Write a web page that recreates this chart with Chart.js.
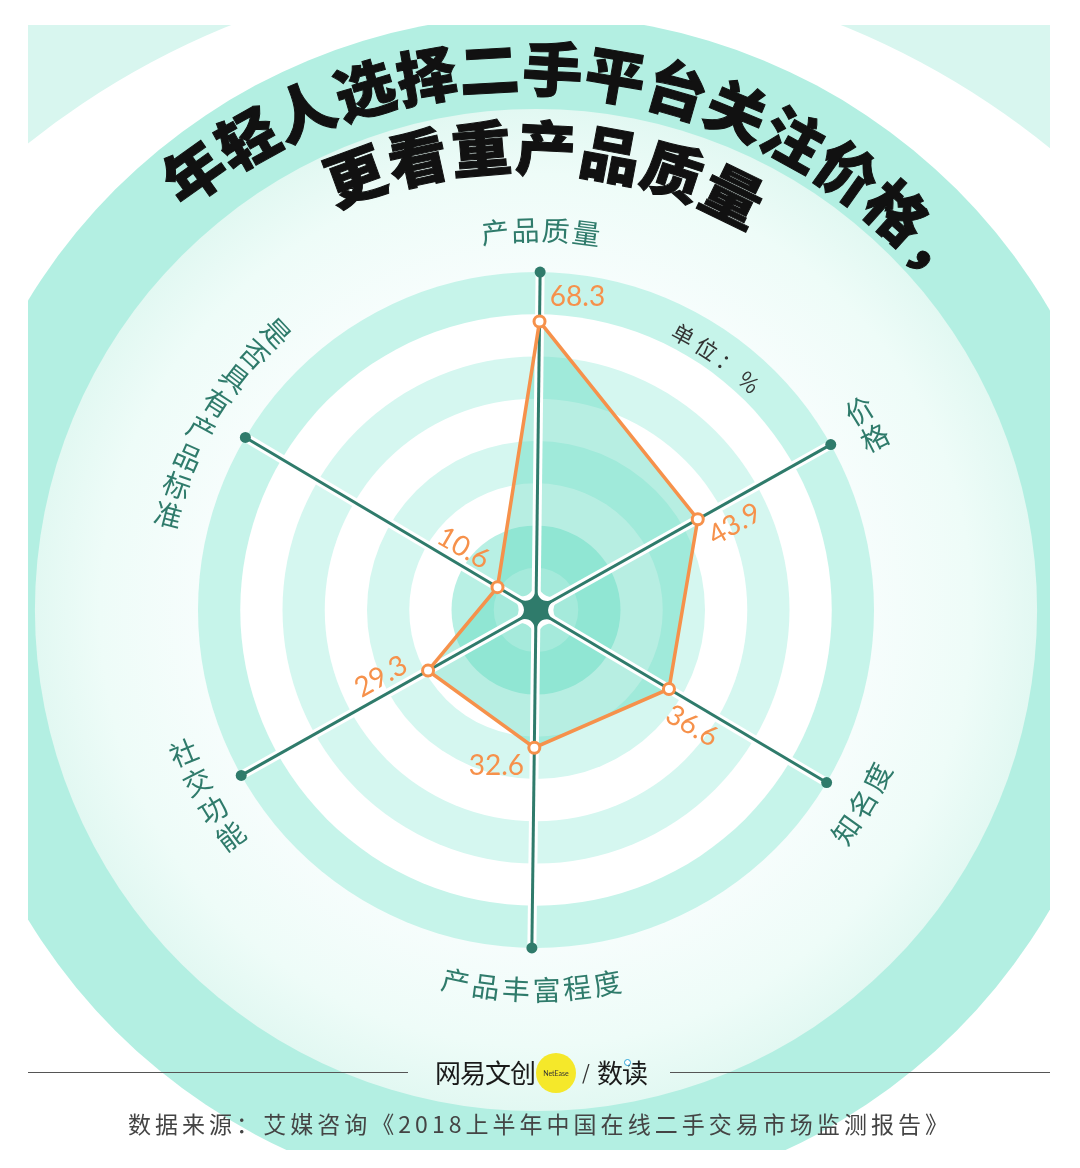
<!DOCTYPE html>
<html><head><meta charset="utf-8">
<script src="https://cdn.jsdelivr.net/npm/chart.js@4.4.1/dist/chart.umd.min.js"></script>
<style>
html,body{margin:0;padding:0;background:#fff;}
#wrap{position:relative;width:1080px;height:1168px;overflow:hidden;}
#c{position:absolute;left:0;top:0;}
.t{position:absolute;font-family:"Noto Sans CJK SC",sans-serif;font-weight:900;font-size:60px;line-height:60px;color:#111;white-space:nowrap;-webkit-text-stroke:1px #111;}
.hl{position:absolute;height:0;border-top:1.5px solid #555;}
.lg{position:absolute;font-family:"Noto Sans CJK SC",sans-serif;color:#1a1a1a;white-space:nowrap;line-height:1;}
#src{position:absolute;left:0;width:1080px;top:1109px;text-align:center;font-family:"Noto Sans CJK SC",sans-serif;font-size:23px;line-height:28px;color:#444;white-space:nowrap;}
</style></head>
<body>
<div id="wrap">
<canvas id="c" width="1080" height="1168"></canvas>
<div class="hl" style="left:28px;width:380px;top:1072px"></div>
<div class="hl" style="left:670px;width:380px;top:1072px"></div>
<div class="lg" style="left:435px;top:1059px;font-size:26px;letter-spacing:-1px">网易文创</div>
<div class="lg" style="left:536px;top:1053px;width:40px;height:40px;border-radius:50%;background:#f5e82a;font-family:Lato,sans-serif;font-size:7px;line-height:40px;text-align:center;color:#333">NetEase</div>
<div class="lg" style="left:582px;top:1062px;font-size:20px;color:#333">/</div>
<div class="lg" style="left:597px;top:1059px;font-size:26px;letter-spacing:-1px">数读</div>
<div class="lg" style="left:624px;top:1059px;width:5px;height:5px;border-radius:50%;border:1.5px solid #2aa3d8;background:#fff"></div>
<div id="src"></div>
</div>
<script>
// ---- data ----
const categories = ['产品质量','价格','知名度','产品丰富程度','社交功能','是否具有产品标准'];
const values = [68.3, 43.9, 36.6, 32.6, 29.3, 10.6];
const scaleMin = 0;
const scaleMax = 80;
const bandTicks = [10,20,30,40,50,60,70,80];
const titleLine1 = '年轻人选择二手平台关注价格，';
const titleLine2 = '更看重产品质量';
const unitText = '单位：%';
const sourceText = '数据来源：艾媒咨询《2018上半年中国在线二手交易市场监测报告》';

// ---- styles ----
const S = {
  dark:'#2f7b6b', orange:'#f6914b', fillCol:'rgba(96,218,190,0.45)',
  bandColors:['#dff8f2','#b8f0e4','#ffffff','#d5f7f0','#ffffff','#d5f7f0','#ffffff','#c6f4ea'],
  ringInner:118.6, ringOuter:140.8, ringColor:'#b3efe2',
  mint:'#d8f6ef', clip:[28,25,1022,1125], whiteDiskDy:172, whiteDiskR:816,
  labelGap:42, labelPitch:[30.5,31,30.5,30.5,32,30.7],
  labelFlip:[false,false,true,true,true,true],
  labelVertical:[false,true,false,false,true,true],
  labelFont:'28px "Noto Sans CJK SC", sans-serif', labelColor:'#2f7b6b',
  valueFont:'28px Lato, sans-serif',
  valueOffsets:[[38,-24,0],[37,5,-30],[23,37,30],[-38,18,0],[-47,6,-30],[-34,-39,30]],
  unitR:312, unitDeg:35.6, unitPitch:27, unitFont:'22px "Noto Sans CJK SC", sans-serif', unitColor:'#333',
  titleDx:-15, titleDy:21,
  title1:{R:566,start:-35.5,step:6.45}, title2:{R:487,start:-20,step:7.65}
};

function arcText(ctx, str, cx, cy, R, centerRad, pitch, flip, vertical){
  const chars = Array.from(str), n = chars.length;
  chars.forEach((ch,j)=>{
    const off = (j-(n-1)/2)*pitch/R;
    const ang = centerRad + (flip ? -off : off);
    let rot = flip ? ang-Math.PI : ang;
    if(vertical) rot -= Math.PI/2;
    ctx.save();
    ctx.translate(cx+R*Math.sin(ang), cy-R*Math.cos(ang));
    ctx.rotate(rot);
    ctx.fillText(ch,0,0);
    ctx.restore();
  });
}

const bgPlugin = {
  id:'bg',
  beforeDraw(chart){
    const ctx=chart.ctx, s=chart.scales.r, cx=s.xCenter, cy=s.yCenter;
    const d=v=>s.getDistanceFromCenterForValue(v);
    const disk=(r,col)=>{ctx.fillStyle=col;ctx.beginPath();ctx.arc(cx,cy,r,0,Math.PI*2);ctx.fill();};
    ctx.save();
    ctx.beginPath(); ctx.rect(...S.clip); ctx.clip();
    ctx.fillStyle=S.mint; ctx.fillRect(S.clip[0],S.clip[1],S.clip[2],600);
    ctx.fillStyle='#fff'; ctx.beginPath(); ctx.arc(cx,cy+S.whiteDiskDy,S.whiteDiskR,0,Math.PI*2); ctx.fill();
    disk(d(S.ringOuter), S.ringColor);
    const g=ctx.createRadialGradient(cx,cy,d(scaleMax),cx,cy,d(S.ringInner));
    g.addColorStop(0,'#f6fdfc'); g.addColorStop(0.6,'#eefcf8'); g.addColorStop(1,'#e2f8f2');
    disk(d(S.ringInner), g);
    for(let i=bandTicks.length-1;i>=0;i--) disk(d(bandTicks[i]), S.bandColors[i]);
    ctx.restore();
  },
  afterDatasetDraw(chart,args){
    if(args.index!==1) return;
    const s=chart.scales.r, ctx=chart.ctx, cx=s.xCenter, cy=s.yCenter, n=chart.data.labels.length;
    const ends=[]; for(let i=0;i<n;i++) ends.push(s.getPointPositionForValue(i, scaleMax));
    const dirs=ends.map(p=>{const dx=p.x-cx,dy=p.y-cy,L=Math.hypot(dx,dy);return [dx/L,dy/L];});
    const star=(tip,k)=>{
      ctx.beginPath();
      for(let i=0;i<n;i++){
        const a=dirs[i], b=dirs[(i+1)%n]; const bx=a[0]+b[0], by=a[1]+b[1], bl=Math.hypot(bx,by);
        if(i===0) ctx.moveTo(cx+a[0]*tip, cy+a[1]*tip);
        ctx.quadraticCurveTo(cx+bx/bl*k, cy+by/bl*k, cx+b[0]*tip, cy+b[1]*tip);
      }
      ctx.closePath(); ctx.fill();
    };
    ctx.save();
    ctx.strokeStyle='#fff'; ctx.lineWidth=9; ctx.lineCap='butt';
    ends.forEach(p=>{ctx.beginPath();ctx.moveTo(cx,cy);ctx.lineTo(p.x,p.y);ctx.stroke();});
    ctx.fillStyle='#fff'; star(32,7);
    ctx.strokeStyle=S.dark; ctx.lineWidth=3;
    ends.forEach(p=>{ctx.beginPath();ctx.moveTo(cx,cy);ctx.lineTo(p.x,p.y);ctx.stroke();});
    ctx.fillStyle=S.dark; star(22,5);
    ends.forEach(p=>{ctx.beginPath();ctx.arc(p.x,p.y,5.5,0,Math.PI*2);ctx.fill();});
    ctx.restore();
  },
  afterDraw(chart){
    const s=chart.scales.r, ctx=chart.ctx, cx=s.xCenter, cy=s.yCenter;
    ctx.save();
    ctx.textAlign='center'; ctx.textBaseline='middle';
    ctx.font=S.labelFont; ctx.fillStyle=S.labelColor;
    chart.data.labels.forEach((lab,i)=>{
      arcText(ctx, lab, cx, cy, s.drawingArea+S.labelGap, s.getIndexAngle(i), S.labelPitch[i], S.labelFlip[i], S.labelVertical[i]);
    });
    ctx.font=S.unitFont; ctx.fillStyle=S.unitColor;
    arcText(ctx, unitText, cx, cy, S.unitR, S.unitDeg*Math.PI/180, S.unitPitch, false, false);
    const meta=chart.getDatasetMeta(0);
    ctx.font=S.valueFont; ctx.fillStyle=S.orange;
    meta.data.forEach((pt,i)=>{
      const o=S.valueOffsets[i];
      ctx.save(); ctx.translate(pt.x+o[0], pt.y+o[1]); ctx.rotate(o[2]*Math.PI/180);
      ctx.fillText(values[i].toFixed(1),0,0); ctx.restore();
    });
    ctx.restore();
  }
};

const chart = new Chart(document.getElementById('c'), {
  type:'radar',
  data:{
    labels:categories,
    datasets:[
      {data:values, fill:false, borderColor:S.orange, borderWidth:3.5, tension:0,
       pointRadius:5.5, pointBorderWidth:3, pointBackgroundColor:'#fff', pointBorderColor:S.orange, order:0},
      {data:values, fill:'origin', backgroundColor:S.fillCol, borderColor:'transparent', borderWidth:0,
       pointRadius:0, order:1}
    ]
  },
  options:{
    responsive:false, animation:false, events:[],
    layout:{padding:{left:198,right:206,top:272,bottom:220}},
    plugins:{legend:{display:false}, tooltip:{enabled:false}},
    scales:{r:{min:scaleMin,max:scaleMax,startAngle:0.7,
      ticks:{display:false}, grid:{display:false}, angleLines:{display:false}, pointLabels:{display:false}}}
  },
  plugins:[bgPlugin]
});

(function(){
  const s=chart.scales.r, cx=s.xCenter+S.titleDx, cy=s.yCenter+S.titleDy, wrap=document.getElementById('wrap');
  function arcDom(str,p){
    Array.from(str).forEach((ch,i)=>{
      const deg=p.start+p.step*i, a=deg*Math.PI/180;
      const sp=document.createElement('span'); sp.className='t'; sp.textContent=ch;
      sp.style.left=(cx+p.R*Math.sin(a))+'px'; sp.style.top=(cy-p.R*Math.cos(a))+'px';
      sp.style.transform='translate(-50%,-50%) rotate('+deg+'deg)';
      wrap.appendChild(sp);
    });
  }
  arcDom(titleLine1,S.title1); arcDom(titleLine2,S.title2);
  const src=document.getElementById('src');
  const tmp=document.createElement('span'); tmp.textContent=sourceText; src.appendChild(tmp);
  const w=tmp.getBoundingClientRect().width, n=Array.from(sourceText).length;
  src.style.letterSpacing=((824-w)/n)+'px';
})();
</script>
</body></html>
